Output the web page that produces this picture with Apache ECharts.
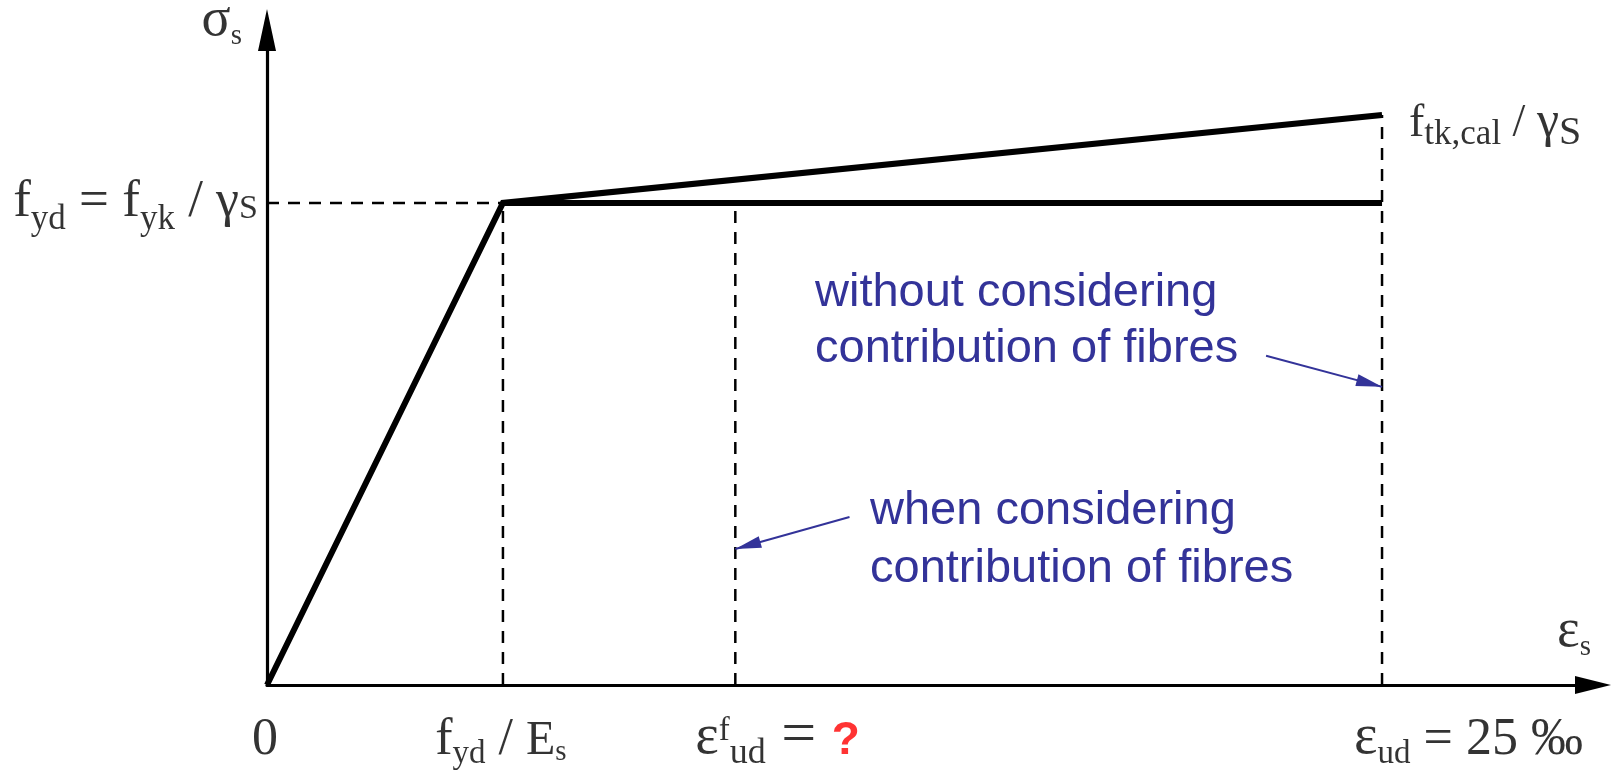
<!DOCTYPE html>
<html><head><meta charset="utf-8">
<script src="https://cdn.jsdelivr.net/npm/echarts@6/dist/echarts.min.js"></script>
<style>html,body{margin:0;padding:0;background:#fff}#c{width:1615px;height:772px}</style>
</head><body><div id="c"></div>
<script>
// ---- data (strain in ‰, stress in MPa, schematic) ----
const strainTicks = [0, 5.29, 10.5, 25];          // 0, f_yd/E_s, ε^f_ud, ε_ud
const stressLevels = [435, 514.4];                // f_yd, f_tk,cal/γS
const hardeningBranch = [[0, 0], [5.29, 435], [25, 514.4]];
const plasticBranch = [[5.29, 435], [25, 435]];
const guideLines = [
  [[0, 435], [5.29, 435]],
  [[5.29, 0], [5.29, 435]],
  [[10.5, 0], [10.5, 435]],
  [[25, 0], [25, 514.4]]
];
const axisMaxX = 29.73;
const axisMaxY = 591;
const arrowFrom = [[22.4, 297], [13.06, 151.6]];
const arrowTo = [[25, 269], [10.5, 122.7]];
const noteTexts = ['without considering\ncontribution of fibres', 'when considering\ncontribution of fibres'];

// ---- styling helpers ----
const SERIF = 'Liberation Serif', SANS = 'Liberation Sans';
const KS = 0.3375, KA = 0.3465;
function tok(fs, mainFs, LH, drop, extra) {
  extra = extra || {};
  const k = extra.fontFamily === SANS ? KA : KS;
  const H = 2 * (mainFs * (0.5 - KS) - drop + k * fs);
  return Object.assign({fontFamily: SERIF, fontSize: fs, lineHeight: LH, height: H, verticalAlign: 'bottom', color: '#000'}, extra);
}
const richBottom = {
  m: tok(52, 52, 58, 0), e: tok(56, 52, 58, 0), s: tok(33, 52, 58, 8), E: tok(48, 52, 58, 0), es: tok(29, 52, 58, 5),
  s2: tok(36, 52, 58, 8), w: tok(62, 52, 58, 0),
  sup: tok(33, 52, 58, -15), q: tok(46, 52, 58, 0, {fontFamily: SANS, fontWeight: 'bold', color: '#ff0000'})
};
const richLeft = { m: tok(53, 53, 58, 0), s: tok(35, 53, 58, 11), g: tok(52, 53, 58, 0), S: tok(34, 53, 58, 0) };
const richRight = { m: tok(46, 46, 50, 0), s: tok(35, 46, 50, 7), g: tok(50, 46, 50, 0), S: tok(40, 46, 50, 7) };
const richAxis = { m: tok(54, 54, 58, 0), s: tok(29, 54, 58, 7) };

function lab(pt, text, rich, align, offset) {
  return {
    value: pt,
    label: {show: true, position: 'inside', align: align, verticalAlign: 'bottom', offset: offset,
      formatter: () => text, rich: rich}
  };
}
const labelItems = [
  lab([0, axisMaxY], '{m|σ}{s|s}', richAxis, 'right', [-25, 18]),
  lab([strainTicks[0], stressLevels[0]], '{m|f}{s|yd}{m| = f}{s|yk}{m| / }{g|γ}{S|S}', richLeft, 'right', [-9, 26]),
  lab([strainTicks[3], stressLevels[1]], '{m|f}{s|tk,cal}{m| / }{g|γ}{S|S}', richRight, 'left', [27, 32.5]),
  lab([axisMaxX, 0], '{m|ε}{s|s}', richAxis, 'right', [-2, -26]),
  lab([strainTicks[0], 0], '{m|0}', richBottom, 'center', [-2, 81]),
  lab([strainTicks[1], 0], '{m|f}{s|yd}{m| / }{E|E}{es|s}', richBottom, 'center', [-2, 81]),
  lab([strainTicks[2], 0], '{e|ε}{sup|f}{s2|ud}{w| = }{q|?}', richBottom, 'left', [-40, 81]),
  lab([strainTicks[3], 0], '{e|ε}{s|ud}{m| = 25 ‰}', richBottom, 'left', [-28, 81])
];

const chart = echarts.init(document.getElementById('c'), null, {renderer: 'canvas'});
const axisCommon = {
  type: 'value', min: 0,
  axisTick: {show: false}, axisLabel: {show: false}, splitLine: {show: false},
};
const option = {
  animation: false,
  backgroundColor: '#fff',
  grid: {left: 267, right: 22, top: 30, bottom: 87, containLabel: false},
  xAxis: Object.assign({}, axisCommon, {max: axisMaxX,
    axisLine: {show: true, onZero: false, symbol: ['none', 'triangle'], symbolSize: [18, 36], lineStyle: {color: '#000', width: 3.2}}}),
  yAxis: Object.assign({}, axisCommon, {max: axisMaxY,
    axisLine: {show: true, onZero: false, symbol: ['none', 'triangle'], symbolSize: [18, 42], lineStyle: {color: '#000', width: 3.2}}}),
  graphic: [
    {type: 'text', left: 815, top: 264.7, silent: true,
      style: {text: noteTexts[0], font: '47px "Liberation Sans"', fill: '#333399', lineHeight: 56}},
    {type: 'text', left: 870, top: 481.7, silent: true,
      style: {text: noteTexts[1], font: '47px "Liberation Sans"', fill: '#333399', lineHeight: 58}}
  ],
  series: [
    ...guideLines.map(seg => ({
      type: 'line', data: seg, symbol: 'none', silent: true, z: 2,
      lineStyle: {color: '#000', width: 2.5, type: [12, 9]}
    })),
    {type: 'line', data: hardeningBranch, symbol: 'none', silent: true, z: 3,
      lineStyle: {color: '#000', width: 6, join: 'miter', cap: 'butt'}},
    {type: 'line', data: plasticBranch, symbol: 'none', silent: true, z: 3,
      lineStyle: {color: '#000', width: 6, join: 'miter', cap: 'butt'},
      markLine: {
        silent: true, animation: false,
        symbol: ['none', 'triangle'], symbolSize: [12, 26],
        lineStyle: {color: '#333399', width: 2, type: 'solid'},
        label: {show: false},
        data: arrowFrom.map((f, i) => [{coord: f, symbol: 'none'}, {coord: arrowTo[i], symbol: 'triangle', symbolOffset: [0, 13]}])
      }},
    {type: 'scatter', data: labelItems, symbolSize: 1, silent: true, clip: false, z: 5,
      itemStyle: {color: 'rgba(0,0,0,0)'}}
  ]
};
chart.setOption(option);
</script>
</body></html>
